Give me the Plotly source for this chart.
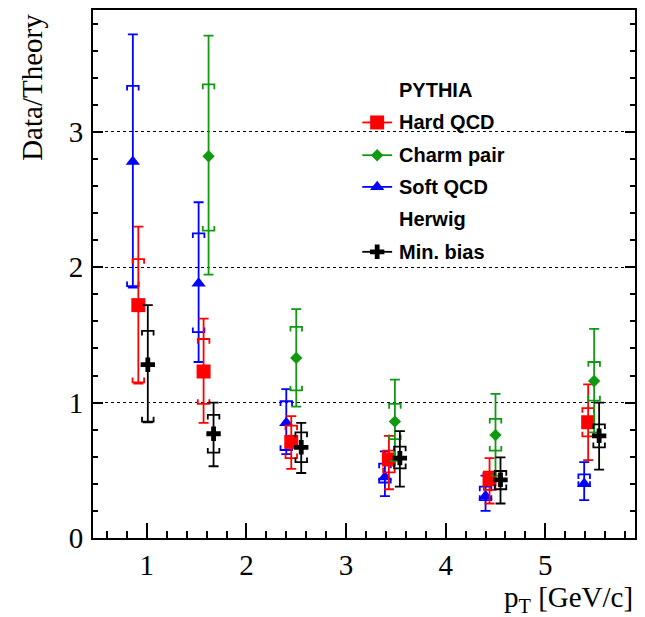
import plotly.graph_objects as go

# ---------------- data ----------------
soft_x = [0.86, 1.52, 2.40, 3.39, 4.40, 5.39]
soft_y = [2.78, 1.88, 0.85, 0.45, 0.31, 0.40]
soft_stat_hi = [3.72, 2.48, 1.10, 0.64, 0.46, 0.56]
soft_stat_lo = [1.85, 1.30, 0.62, 0.31, 0.20, 0.28]
soft_syst_hi = [3.34, 2.25, 1.01, 0.55, 0.38, 0.47]
soft_syst_lo = [1.86, 1.52, 0.65, 0.41, 0.28, 0.385]

hard_x = [0.915, 1.57, 2.45, 3.43, 4.44, 5.43]
hard_y = [1.72, 1.23, 0.71, 0.58, 0.435, 0.855]
hard_stat_hi = [2.30, 1.62, 0.90, 0.755, 0.59, 1.135]
hard_stat_lo = [1.14, 0.85, 0.51, 0.36, 0.255, 0.575]
hard_syst_hi = [2.06, 1.47, 0.83, 0.645, 0.49, 0.96]
hard_syst_lo = [1.15, 0.99, 0.59, 0.485, 0.355, 0.75]

charm_x = [1.62, 2.50, 3.49, 4.50, 5.49]
charm_y = [2.82, 1.33, 0.86, 0.76, 1.16]
charm_stat_hi = [3.71, 1.69, 1.17, 1.065, 1.545]
charm_stat_lo = [1.945, 0.97, 0.57, 0.46, 0.78]
charm_syst_hi = [3.35, 1.56, 0.99, 0.88, 1.30]
charm_syst_lo = [2.27, 1.09, 0.73, 0.645, 1.015]

minb_x = [1.01, 1.67, 2.55, 3.54, 4.55, 5.54]
minb_y = [1.28, 0.77, 0.67, 0.59, 0.43, 0.755]
minb_stat_hi = [1.72, 1.00, 0.85, 0.79, 0.595, 1.00]
minb_stat_lo = [0.855, 0.53, 0.48, 0.38, 0.255, 0.505]
minb_syst_hi = [1.53, 0.91, 0.78, 0.675, 0.495, 0.84]
minb_syst_lo = [0.86, 0.63, 0.56, 0.515, 0.36, 0.67]

x_ticks = [1, 2, 3, 4, 5]
y_ticks = [0, 1, 2, 3]

RED = "#ff0000"
GREEN = "#119911"
BLUE = "#0000ff"
BLACK = "#000000"

series = [
    ("Soft QCD", soft_x, soft_y, soft_stat_hi, soft_stat_lo, soft_syst_hi, soft_syst_lo, BLUE, "triangle-up", 12.5),
    ("Hard QCD", hard_x, hard_y, hard_stat_hi, hard_stat_lo, hard_syst_hi, hard_syst_lo, RED, "square", 14),
    ("Charm pair", charm_x, charm_y, charm_stat_hi, charm_stat_lo, charm_syst_hi, charm_syst_lo, GREEN, "diamond", 9.5),
    ("Min. bias", minb_x, minb_y, minb_stat_hi, minb_stat_lo, minb_syst_hi, minb_syst_lo, BLACK, "cross", 12),
]

BW = 0.058   # bracket half-width (x units)
BH = 0.035   # bracket tick height (y units)
LW = 1.8

fig = go.Figure()

for name, xs, ys, shi, slo, yhi, ylo, col, sym, sz in series:
    bx, by = [], []
    for x, h, l in zip(xs, yhi, ylo):
        bx += [x - BW, x - BW, x + BW, x + BW, None]
        by += [h - BH, h, h, h - BH, None]
        bx += [x - BW, x - BW, x + BW, x + BW, None]
        by += [l + BH, l, l, l + BH, None]
    fig.add_trace(go.Scatter(x=bx, y=by, mode="lines", line=dict(color=col, width=LW),
                             showlegend=False, hoverinfo="skip"))
    fig.add_trace(go.Scatter(
        x=xs, y=ys, mode="markers", name=name, showlegend=False,
        marker=dict(symbol=sym, size=sz, color=col, line=dict(width=0)),
        error_y=dict(type="data", symmetric=False,
                     array=[h - y for h, y in zip(shi, ys)],
                     arrayminus=[y - l for y, l in zip(ys, slo)],
                     color=col, thickness=LW, width=5),
    ))

# ---------------- legend (drawn in overlay axes spanning the plot area) ----------------
leg_rows = [
    ("PYTHIA", None, None, None, 0.849),
    ("Hard QCD", RED, "square", 14, 0.787),
    ("Charm pair", GREEN, "diamond", 9.5, 0.725),
    ("Soft QCD", BLUE, "triangle-up", 12.5, 0.665),
    ("Herwig", None, None, None, 0.604),
    ("Min. bias", BLACK, "cross", 12, 0.542),
]
LX0, LX1, LXM, LXT = 0.4968, 0.5519, 0.5243, 0.561

annotations = []
for label, col, sym, sz, yy in leg_rows:
    annotations.append(dict(text="<b>%s</b>" % label, xref="paper", yref="paper",
                            x=LXT, y=yy, xanchor="left", yanchor="middle", showarrow=False,
                            font=dict(family="Liberation Sans", size=20, color="black")))
    if col is not None:
        fig.add_trace(go.Scatter(x=[LX0, LX1], y=[yy, yy], mode="lines", xaxis="x2", yaxis="y2",
                                 line=dict(color=col, width=LW), showlegend=False, hoverinfo="skip"))
        fig.add_trace(go.Scatter(x=[LXM], y=[yy], mode="markers", xaxis="x2", yaxis="y2",
                                 marker=dict(symbol=sym, size=sz, color=col, line=dict(width=0)),
                                 showlegend=False, hoverinfo="skip"))

annotations.append(dict(text="Data/Theory", xref="paper", yref="paper", x=-0.114, y=0.996,
                        xanchor="center", yanchor="top", textangle=-90, showarrow=False,
                        font=dict(family="Liberation Serif", size=29, color="black")))
annotations.append(dict(text="p<sub>T</sub> [GeV/c]", xref="paper", yref="paper", x=1.0, y=-0.116,
                        xanchor="right", yanchor="middle", showarrow=False,
                        font=dict(family="Liberation Serif", size=29, color="black")))

axis_font = dict(family="Liberation Serif", size=29, color="black")

fig.update_layout(
    width=645, height=617,
    margin=dict(l=93, r=8, t=10, b=79),
    paper_bgcolor="white", plot_bgcolor="white",
    showlegend=False,
    annotations=annotations,
    xaxis=dict(range=[0.46, 5.90], tickvals=x_ticks, ticks="inside", ticklen=15, tickwidth=1.5,
               tickcolor="black", showline=True, linecolor="black", linewidth=2, mirror=True,
               showgrid=False, zeroline=False, tickfont=axis_font, ticklabelstandoff=0,
               minor=dict(dtick=0.2, tick0=0, ticks="inside", ticklen=7, tickwidth=1.5,
                          tickcolor="black", showgrid=False)),
    yaxis=dict(range=[0, 3.9], tickvals=y_ticks, ticks="inside", ticklen=10, tickwidth=1.5,
               tickcolor="black", showline=True, linecolor="black", linewidth=2, mirror="ticks",
               showgrid=True, gridcolor="black", griddash="dot", gridwidth=1, zeroline=False,
               tickfont=axis_font, ticklabelstandoff=2,
               minor=dict(dtick=0.2, tick0=0, ticks="inside", ticklen=5, tickwidth=1.5,
                          tickcolor="black", showgrid=False)),
    xaxis2=dict(overlaying="x", range=[0, 1], visible=False, anchor="y2"),
    yaxis2=dict(overlaying="y", range=[0, 1], visible=False, anchor="x2"),
)

fig.write_html("out.html")
